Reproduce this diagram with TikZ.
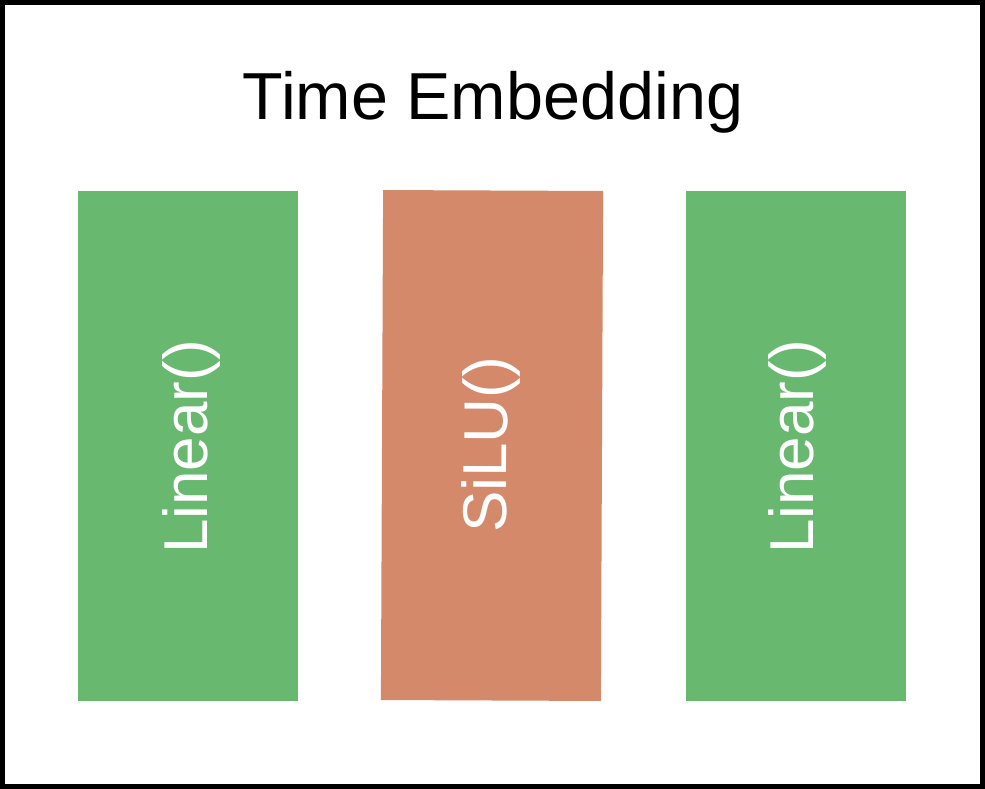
\documentclass[tikz,border=0pt]{standalone}
\usepackage{fontspec}
\setmainfont{Liberation Sans}
\definecolor{lingreen}{RGB}{105,184,112}
\definecolor{siluorange}{RGB}{211,137,106}
\tikzset{
  blockbox/.style={draw=none, minimum width=220pt, minimum height=510pt, inner sep=0pt, outer sep=0pt},
  blocklabel/.style={text=white, font=\fontsize{62}{62}\selectfont, inner sep=0pt},
  titlelabel/.style={text=black, font=\fontsize{66.5}{66.5}\selectfont, inner sep=0pt}
}
\begin{document}
\begin{tikzpicture}[x=1pt,y=-1pt]
  \useasboundingbox (0,0) rectangle (985,789);
  \draw[line width=5pt] (2.5,2.5) rectangle (982.5,786.5);
  \node[titlelabel, anchor=base] (title) at (493,120) {Time Embedding};
  \node[blockbox, fill=lingreen] (lin1) at (188,446) {};
  \node[blockbox, fill=siluorange, rotate=-0.25] (silu) at (492,445.5) {};
  \node[blockbox, fill=lingreen] (lin2) at (796,446) {};
  \node[blocklabel, rotate=90] (lin1text) at (191,447) {Linear()};
  \node[blocklabel, rotate=89.75] (silutext) at (491,445) {SiLU()};
  \node[blocklabel, rotate=90] (lin2text) at (797,447) {Linear()};
\end{tikzpicture}
\end{document}
